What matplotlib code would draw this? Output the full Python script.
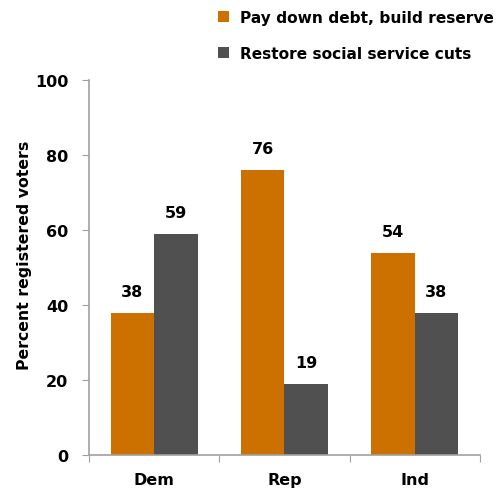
import numpy as np
import matplotlib.pyplot as plt

groups = ['Dem', 'Rep', 'Ind']
pay_down = [38, 76, 54]
restore = [59, 19, 38]
series_names = ['Pay down debt, build reserve', 'Restore social service cuts']

orange = '#CC7000'
gray = '#505050'
axis_gray = '#A0A0A0'

plt.rcParams['font.family'] = ['DejaVu Sans']
plt.rcParams['font.weight'] = 'bold'

fig = plt.figure(figsize=(5.03, 4.89), dpi=100)
ax = fig.add_axes([0.177, 0.0675, 0.777, 0.7665])

x = np.arange(len(groups))
w = 1 / 3
b1 = ax.bar(x - w / 2, pay_down, w, color=orange, label=series_names[0])
b2 = ax.bar(x + w / 2, restore, w, color=gray, label=series_names[1])

for bars, vals in ((b1, pay_down), (b2, restore)):
    for rect, v in zip(bars, vals):
        ax.annotate(str(v), (rect.get_x() + rect.get_width() / 2, v),
                    xytext=(0, 10), textcoords='offset points',
                    ha='center', va='bottom', fontsize=11.5, fontweight='bold')

ax.set_xlim(-0.5, 2.5)
ax.set_ylim(0, 100)
ax.set_yticks([0, 20, 40, 60, 80, 100])
ax.set_xticks([-0.5, 0.5, 1.5, 2.5])
ax.set_xticklabels([])
ax.set_xticks(x, minor=True)
ax.set_xticklabels(groups, minor=True)
ax.tick_params(axis='x', which='minor', length=0, pad=12, labelsize=11.5)
ax.tick_params(axis='x', which='major', length=5, color=axis_gray, direction='out')
ax.tick_params(axis='y', length=5, color=axis_gray, direction='out', labelsize=11.5, pad=10)

for s in ('top', 'right'):
    ax.spines[s].set_visible(False)
for s in ('left', 'bottom'):
    ax.spines[s].set_color(axis_gray)
    ax.spines[s].set_linewidth(1.2)

ax.set_ylabel('Percent registered voters', fontsize=11.3, fontweight='bold', va='center')
ax.yaxis.set_label_coords(-0.164, 0.536)

fig.legend(handles=[b1, b2], loc='upper left', bbox_to_anchor=(0.433, 0.977),
           frameon=False, fontsize=11.1, handlelength=0.72, handleheight=0.72,
           handletextpad=0.7, labelspacing=1.35, borderaxespad=0, borderpad=0)

fig.savefig('out.png', dpi=100)
